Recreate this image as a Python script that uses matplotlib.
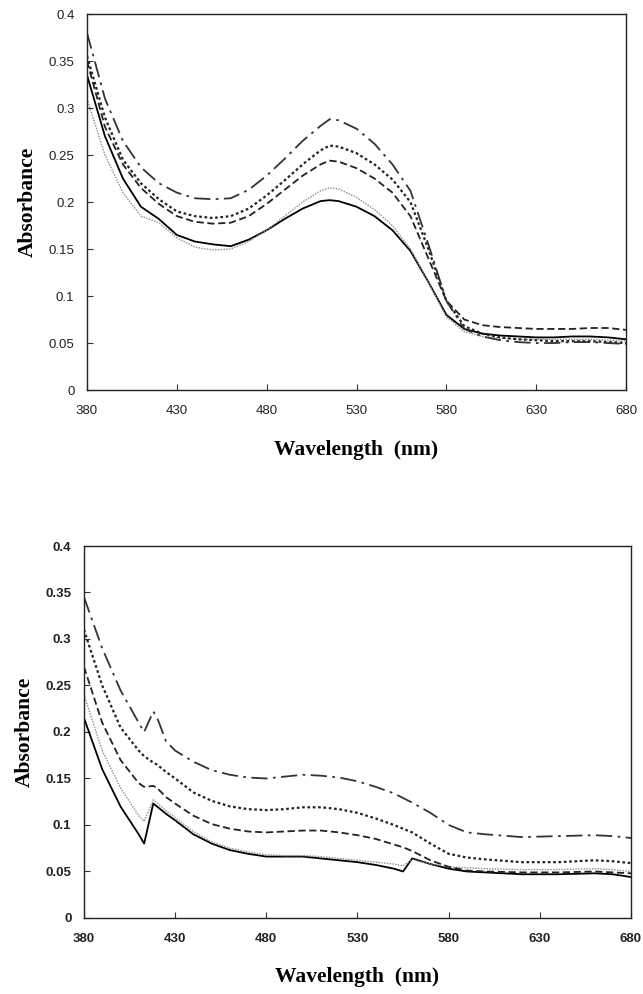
import matplotlib
matplotlib.use("Agg")
import matplotlib.pyplot as plt

# top panel: wavelength grid and absorbance of the five spectra
top_wl = [380, 390, 400, 410, 420, 430, 440, 450, 460, 470, 480, 490, 500, 510, 515,
          520, 530, 540, 550, 560, 570, 580, 590, 600, 610, 620, 630, 640, 650, 660, 670, 680]
top_solid = [0.335, 0.27, 0.225, 0.195, 0.182, 0.165, 0.158, 0.155, 0.153, 0.160, 0.170,
             0.182, 0.193, 0.201, 0.202, 0.201, 0.195, 0.185, 0.170, 0.148, 0.115, 0.080,
             0.065, 0.060, 0.058, 0.057, 0.056, 0.056, 0.057, 0.057, 0.056, 0.054]
top_gray = [0.31, 0.25, 0.21, 0.185, 0.178, 0.162, 0.152, 0.149, 0.150, 0.158, 0.170,
            0.185, 0.200, 0.212, 0.215, 0.214, 0.205, 0.192, 0.175, 0.150, 0.115, 0.078,
            0.062, 0.057, 0.055, 0.054, 0.054, 0.054, 0.054, 0.054, 0.053, 0.052]
top_dash = [0.35, 0.28, 0.24, 0.215, 0.198, 0.185, 0.179, 0.177, 0.178, 0.185, 0.198,
            0.213, 0.228, 0.240, 0.244, 0.243, 0.236, 0.225, 0.210, 0.185, 0.140, 0.095,
            0.075, 0.069, 0.067, 0.066, 0.065, 0.065, 0.065, 0.066, 0.066, 0.064]
top_dot = [0.355, 0.29, 0.245, 0.22, 0.203, 0.19, 0.185, 0.183, 0.185, 0.193, 0.207,
           0.223, 0.24, 0.255, 0.26, 0.259, 0.252, 0.24, 0.224, 0.200, 0.15, 0.095,
           0.068, 0.06, 0.056, 0.054, 0.053, 0.052, 0.052, 0.052, 0.051, 0.050]
top_dashdot = [0.38, 0.31, 0.265, 0.237, 0.22, 0.21, 0.204, 0.203, 0.204, 0.213, 0.228,
               0.246, 0.265, 0.281, 0.288, 0.287, 0.278, 0.262, 0.24, 0.212, 0.155, 0.095,
               0.065, 0.057, 0.053, 0.051, 0.050, 0.050, 0.051, 0.051, 0.050, 0.049]

# bottom panel
bot_wl = [380, 390, 400, 410, 413, 418, 420, 425, 430, 440, 450, 460, 470, 480, 490, 500,
          510, 520, 530, 540, 550, 555, 560, 570, 580, 590, 600, 620, 640, 660, 670, 680]
bot_solid = [0.215, 0.16, 0.12, 0.09, 0.08, 0.123, 0.120, 0.112, 0.105, 0.09, 0.08, 0.073,
             0.069, 0.066, 0.066, 0.066, 0.064, 0.062, 0.060, 0.057, 0.053, 0.050, 0.064,
             0.058, 0.053, 0.050, 0.049, 0.047, 0.047, 0.048, 0.047, 0.044]
bot_gray = [0.24, 0.18, 0.14, 0.11, 0.104, 0.127, 0.124, 0.115, 0.108, 0.093, 0.082, 0.075,
            0.071, 0.068, 0.067, 0.067, 0.066, 0.064, 0.062, 0.060, 0.058, 0.056, 0.063,
            0.058, 0.055, 0.054, 0.053, 0.052, 0.052, 0.053, 0.052, 0.050]
bot_dash = [0.27, 0.21, 0.17, 0.145, 0.141, 0.142, 0.140, 0.13, 0.123, 0.11, 0.101, 0.096,
            0.093, 0.092, 0.093, 0.094, 0.094, 0.092, 0.089, 0.085, 0.079, 0.076, 0.072,
            0.062, 0.055, 0.051, 0.050, 0.049, 0.049, 0.050, 0.049, 0.048]
bot_dot = [0.31, 0.25, 0.205, 0.18, 0.174, 0.167, 0.165, 0.157, 0.15, 0.135, 0.126, 0.12,
           0.117, 0.116, 0.117, 0.119, 0.119, 0.117, 0.113, 0.107, 0.100, 0.096, 0.092,
           0.08, 0.069, 0.065, 0.063, 0.060, 0.060, 0.062, 0.061, 0.059]
bot_dashdot = [0.345, 0.29, 0.245, 0.21, 0.200, 0.222, 0.216, 0.19, 0.18, 0.168, 0.159,
               0.154, 0.151, 0.150, 0.152, 0.154, 0.153, 0.151, 0.147, 0.141, 0.134, 0.129,
               0.124, 0.113, 0.100, 0.092, 0.090, 0.087, 0.088, 0.089, 0.088, 0.086]

x_ticks = [380, 430, 480, 530, 580, 630, 680]
y_ticks = [0, 0.05, 0.1, 0.15, 0.2, 0.25, 0.3, 0.35, 0.4]
y_labels = ["0", "0.05", "0.1", "0.15", "0.2", "0.25", "0.3", "0.35", "0.4"]

styles = [
    dict(color="black", lw=1.3, ls="-"),
    dict(color="#8a8a8a", lw=1.0, ls=(0, (1, 1))),
    dict(color="#222222", lw=1.3, ls=(0, (4, 2))),
    dict(color="#222222", lw=1.6, ls=(0, (1.2, 1.2))),
    dict(color="#333333", lw=1.3, ls=(0, (9, 3, 1.5, 3))),
]


def draw_panel(ax, wl, curves, bold_ticks):
    for y, st in zip(curves, styles):
        ax.plot(wl, y, **st)
    ax.set_xlim(380, 680)
    ax.set_ylim(0, 0.4)
    ax.set_xticks(x_ticks)
    ax.set_yticks(y_ticks)
    ax.set_yticklabels(y_labels)
    weight = "bold" if bold_ticks else "normal"
    for lab in ax.get_xticklabels() + ax.get_yticklabels():
        lab.set_family("Liberation Sans")
        lab.set_fontsize(9.5)
        lab.set_fontweight(weight)
        lab.set_color("#222222")
    ax.tick_params(direction="in", length=4, width=0.8, colors="#333333",
                   labelcolor="#222222")
    ax.tick_params(axis="x", pad=11)
    ax.tick_params(axis="y", pad=9)
    for sp in ax.spines.values():
        sp.set_linewidth(1.0)
        sp.set_color("#222222")
    ax.set_xlabel("Wavelength  (nm)", family="Liberation Serif", fontweight="bold",
                  fontsize=15.5, labelpad=16)
    ax.set_ylabel("Absorbance", family="Liberation Serif", fontweight="bold",
                  fontsize=15.5, labelpad=8)


fig = plt.figure(figsize=(6.43, 9.94), dpi=100)
ax1 = fig.add_axes([0.1353, 0.6076, 0.8383, 0.3783])
ax2 = fig.add_axes([0.1306, 0.0765, 0.8507, 0.3742])

draw_panel(ax1, top_wl, [top_solid, top_gray, top_dash, top_dot, top_dashdot], False)
draw_panel(ax2, bot_wl, [bot_solid, bot_gray, bot_dash, bot_dot, bot_dashdot], True)

fig.savefig("out.png", dpi=100)
